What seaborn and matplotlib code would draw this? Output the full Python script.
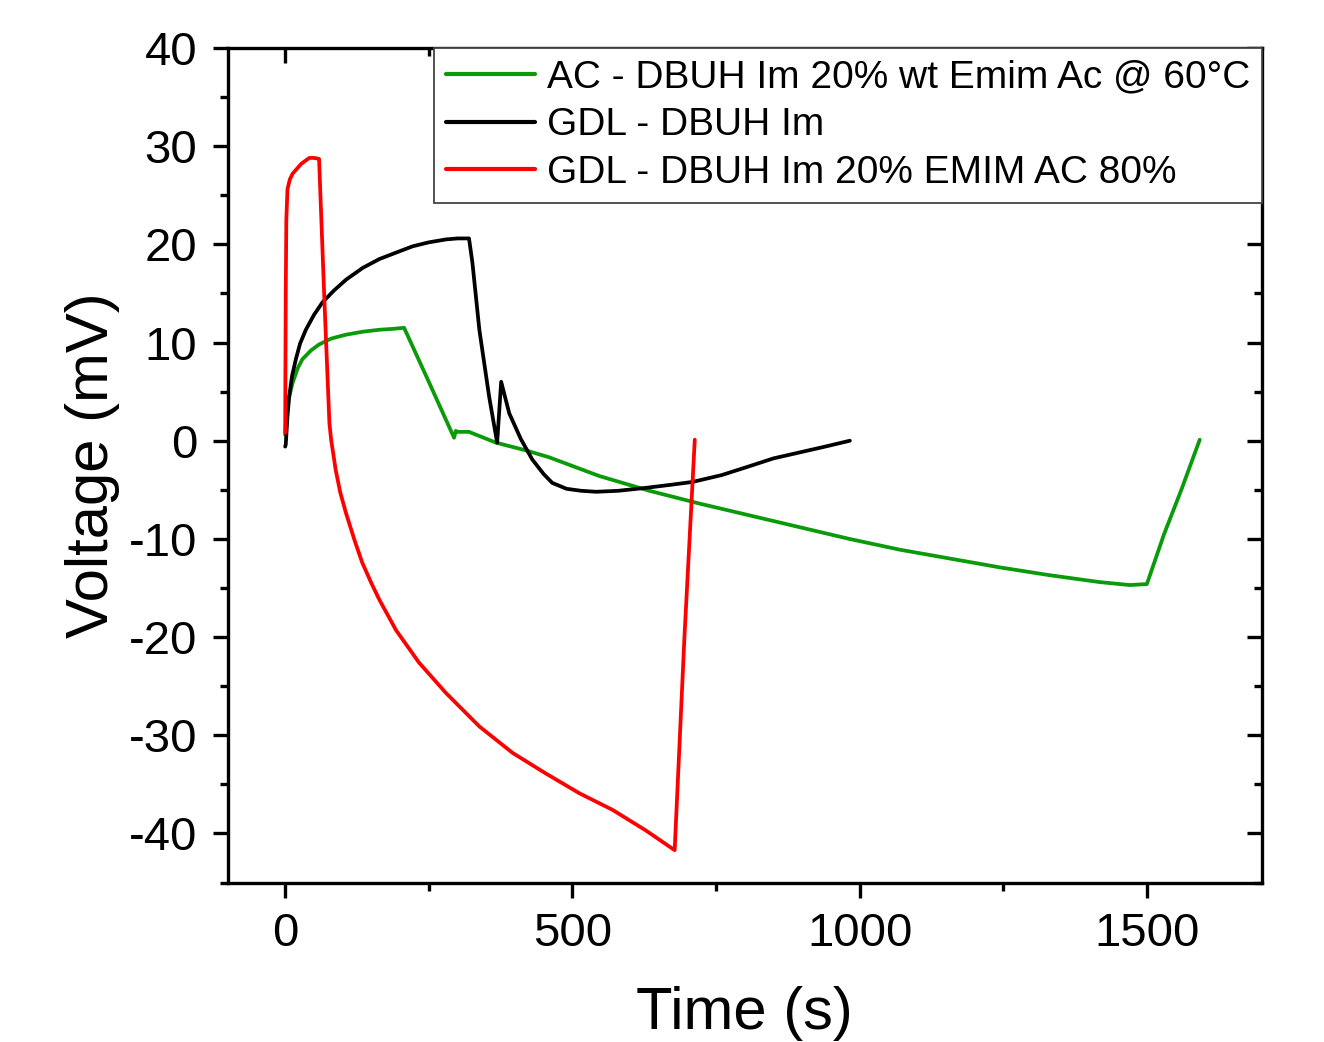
import numpy as np
import pandas as pd
import matplotlib
matplotlib.use("Agg")
import matplotlib.pyplot as plt
import seaborn as sns
from matplotlib.ticker import MultipleLocator

sns.set_theme(style="ticks")
plt.rcParams['font.family'] = ['Liberation Sans', 'DejaVu Sans']
plt.rcParams['axes.unicode_minus'] = False
for k in ["text.color", "axes.labelcolor", "xtick.color", "ytick.color", "axes.edgecolor"]:
    plt.rcParams[k] = "black"

labels = ["AC - DBUH Im 20% wt Emim Ac @ 60°C",
          "GDL - DBUH Im",
          "GDL - DBUH Im 20% EMIM AC 80%"]
colors = ["#0a9a0a", "#000000", "#ff0000"]

green_t = [0, 1, 5, 13, 22, 30, 45, 59, 80, 106, 135, 164, 190, 207, 250, 294, 297, 300, 320, 367, 420, 460, 547, 634, 721, 808, 895, 982, 1070, 1157, 1244, 1331, 1418, 1470, 1500, 1530, 1560, 1592]
green_v = [0.6, 1.5, 4.0, 5.9, 7.4, 8.3, 9.2, 9.8, 10.4, 10.8, 11.1, 11.3, 11.4, 11.5, 6.0, 0.3, 1.0, 0.9, 0.9, -0.2, -1.0, -1.7, -3.6, -5.1, -6.4, -7.6, -8.8, -10.0, -11.1, -12.0, -12.9, -13.7, -14.4, -14.7, -14.6, -9.5, -5.0, 0.1]

black_t = [0, 1, 4, 7, 12, 18.6, 26, 36, 50, 65, 85, 106, 135, 164, 195, 222, 250, 280, 300, 320, 326, 338, 355, 369, 376, 390, 410, 430, 450, 465, 490, 515, 541, 580, 628, 670, 709, 760, 808, 850, 895, 940, 983]
black_v = [-0.6, -0.4, 2.5, 4.5, 6.6, 8.3, 9.9, 11.3, 12.8, 14.1, 15.3, 16.4, 17.6, 18.5, 19.2, 19.8, 20.2, 20.5, 20.6, 20.6, 18.1, 11.3, 4.5, -0.2, 6.0, 2.8, 0.2, -1.9, -3.4, -4.3, -4.9, -5.1, -5.2, -5.1, -4.8, -4.5, -4.2, -3.5, -2.6, -1.8, -1.2, -0.6, 0.0]

red_t = [0, 0.5, 1, 2, 4, 8, 13, 19, 28, 42, 50, 59, 68, 77, 80, 88, 96, 106, 120, 134, 150, 164, 193, 233, 280, 338, 396, 454, 512, 570, 628, 678, 695, 713]
red_v = [0.8, 8.0, 15.0, 22.5, 25.6, 26.6, 27.2, 27.6, 28.2, 28.8, 28.8, 28.7, 14.7, 1.8, 0.1, -3.0, -5.3, -7.4, -10.0, -12.4, -14.5, -16.2, -19.3, -22.6, -25.7, -29.1, -31.8, -33.9, -35.9, -37.6, -39.7, -41.7, -20.0, 0.1]

df = pd.concat([
    pd.DataFrame({"t": green_t, "v": green_v, "series": labels[0]}),
    pd.DataFrame({"t": black_t, "v": black_v, "series": labels[1]}),
    pd.DataFrame({"t": red_t, "v": red_v, "series": labels[2]}),
], ignore_index=True)

fig = plt.figure(figsize=(13.24, 10.42), dpi=100)
ax = fig.add_axes([0.172, 0.153, 0.781, 0.801])

sns.lineplot(data=df, x="t", y="v", hue="series", hue_order=labels,
             palette=dict(zip(labels, colors)), sort=False, estimator=None,
             linewidth=2.7, ax=ax)

ax.set_xlim(-100, 1700)
ax.set_ylim(-45, 40)
ax.xaxis.set_major_locator(MultipleLocator(500))
ax.xaxis.set_minor_locator(MultipleLocator(250))
ax.yaxis.set_major_locator(MultipleLocator(10))
ax.yaxis.set_minor_locator(MultipleLocator(5))

ax.set_xlabel("Time (s)", fontsize=43, labelpad=22)
ax.set_ylabel("Voltage (mV)", fontsize=43, labelpad=6)

for s in ax.spines.values():
    s.set_linewidth(2.4)
    s.set_color("black")

ax.tick_params(axis="both", which="major", labelsize=34, width=2.4, length=11, direction="out", color="black")
ax.tick_params(axis="both", which="minor", width=2.4, length=5.5, direction="out", color="black")
ax.tick_params(axis="x", which="both", pad=10)
ax.tick_params(axis="y", which="both", pad=11)

# inward ticks on top and right
ax2 = ax.secondary_xaxis("top")
ax2.xaxis.set_major_locator(MultipleLocator(500))
ax2.xaxis.set_minor_locator(MultipleLocator(250))
ax2.tick_params(which="major", direction="in", length=11, width=2.4, labeltop=False)
ax2.tick_params(which="minor", direction="in", length=5.5, width=2.4)
ax2.spines["top"].set_visible(False)
ax3 = ax.secondary_yaxis("right")
ax3.yaxis.set_major_locator(MultipleLocator(10))
ax3.yaxis.set_minor_locator(MultipleLocator(5))
ax3.tick_params(which="major", direction="in", length=11, width=2.4, labelright=False)
ax3.tick_params(which="minor", direction="in", length=5.5, width=2.4)
ax3.spines["right"].set_visible(False)

leg = ax.legend(loc="upper right", fontsize=28, frameon=True, fancybox=False,
                framealpha=1, edgecolor="#444444", handlelength=2.3, handletextpad=0.3,
                borderpad=0.3, labelspacing=0.3, borderaxespad=0.0)
leg.get_frame().set_linewidth(1.3)
leg.set_zorder(20)
for h in leg.get_lines():
    h.set_linewidth(3.0)

fig.savefig("out.png", dpi=100)
